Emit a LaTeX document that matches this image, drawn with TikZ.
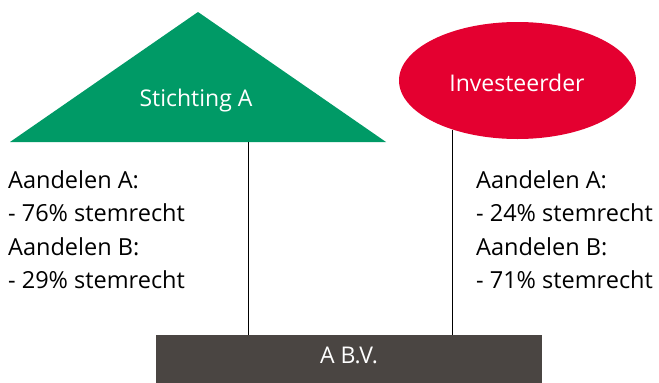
\documentclass[tikz,border=0pt]{standalone}
\usepackage{fontspec}
\setmainfont{Open Sans}
\usetikzlibrary{shapes.geometric}
\definecolor{sgreen}{RGB}{0,154,102}
\definecolor{ired}{RGB}{228,0,48}
\definecolor{bgrey}{RGB}{74,69,66}
\begin{document}
\begin{tikzpicture}[x=1pt,y=-1pt,
  lbl/.style={font=\fontsize{23.5}{28}\selectfont, anchor=base west, inner sep=0pt},
  wtxt/.style={font=\fontsize{23}{28}\selectfont, text=white, anchor=base, inner sep=0pt},
  conn/.style={draw=black, line width=0.9pt}]
\useasboundingbox (0,0) rectangle (659,383);
\fill[sgreen] (198,12) -- (386,142) -- (10,142) -- cycle;
\node[wtxt] (st) at (196,106) {Stichting A};
\node[ellipse, fill=ired, minimum width=237, minimum height=117, inner sep=0pt] (inv) at (517.5,80.5) {};
\node[wtxt] (invt) at (517,91) {Investeerder};
\node[fill=bgrey, minimum width=386, minimum height=52, inner sep=0pt, anchor=north west] (bv) at (156,335) {};
\node[wtxt] (bvt) at (349,363.5) {A B.V.};
\coordinate (tl) at (248,142);
\coordinate (bl) at (248,335);
\coordinate (br) at (452,335);
\coordinate (ir) at (452,129.5);
\draw[conn] (tl) -- (bl);
\draw[conn] (ir) -- (br);
\node[lbl] (l1) at (8,188) {Aandelen A:};
\node[lbl] (l2) at (8,221.5) {- 76\% stemrecht};
\node[lbl] (l3) at (8,255) {Aandelen B:};
\node[lbl] (l4) at (8,288) {- 29\% stemrecht};
\node[lbl] (r1) at (476,188) {Aandelen A:};
\node[lbl] (r2) at (476,221.5) {- 24\% stemrecht};
\node[lbl] (r3) at (476,255) {Aandelen B:};
\node[lbl] (r4) at (476,288) {- 71\% stemrecht};
\end{tikzpicture}
\end{document}
